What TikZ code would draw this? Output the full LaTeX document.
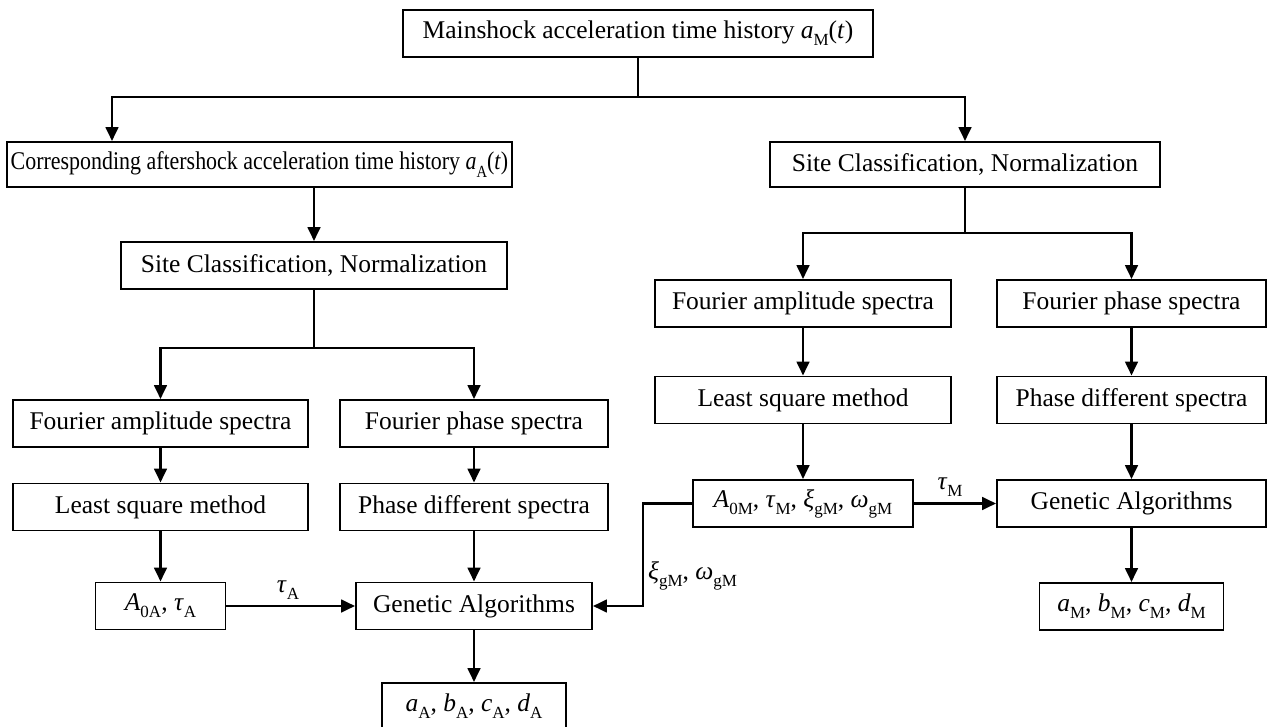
\documentclass[tikz,border=0pt]{standalone}
\usepackage{fontspec}
\setmainfont{Liberation Serif}
\usetikzlibrary{arrows.meta}
\newcommand{\lo}[1]{\raisebox{-0.28em}{\fontsize{17}{17}\selectfont #1}}
\begin{document}
\begin{tikzpicture}[x=1pt,y=1pt,
  font=\fontsize{25.5}{30}\selectfont,
  boxn/.style={draw, line width=1.8pt, inner sep=0pt, minimum height=47pt, fill=white},
  conn/.style={line width=2.9pt},
  arr/.style={conn, -{Triangle[length=14pt,width=12.5pt]}},
  lab/.style={inner sep=0pt}]
\useasboundingbox (0,0) rectangle (1267,-727);
% nodes
\node[boxn, minimum width=470pt] (main) at (638,-33.5) {Mainshock acceleration time history \textit{a}\lo{M}(\textit{t})};
\node[boxn, minimum width=505pt, minimum height=45pt] (corr) at (259.5,-164.5) {\scalebox{0.86}[1]{Corresponding aftershock acceleration time history \textit{a}\lo{A}(\textit{t})}};
\node[boxn, minimum width=390pt, minimum height=45pt] (siteR) at (965,-164.5) {Site Classification, Normalization};
\node[boxn, minimum width=386pt] (siteL) at (314,-265.5) {Site Classification, Normalization};
\node[boxn, minimum width=295pt] (fampL) at (160.5,-423.5) {Fourier amplitude spectra};
\node[boxn, minimum width=268pt] (fphL) at (474,-423.5) {Fourier phase spectra};
\node[boxn, minimum width=295pt] (lsqL) at (160.5,-507) {Least square method};
\node[boxn, minimum width=268pt] (pdL) at (474,-507) {Phase different spectra};
\node[boxn, minimum width=130pt] (a0a) at (160.5,-606) {\textit{A}\lo{0A}, \textit{τ}\lo{A}};
\node[boxn, minimum width=236pt] (gaL) at (474,-606) {Genetic Algorithms};
\node[boxn, minimum width=184pt] (resA) at (474,-706.5) {\textit{a}\lo{A}, \textit{b}\lo{A}, \textit{c}\lo{A}, \textit{d}\lo{A}};
\node[boxn, minimum width=296pt] (fampR) at (803,-303.5) {Fourier amplitude spectra};
\node[boxn, minimum width=269pt] (fphR) at (1131.5,-303.5) {Fourier phase spectra};
\node[boxn, minimum width=296pt] (lsqR) at (803,-400) {Least square method};
\node[boxn, minimum width=269pt] (pdR) at (1131.5,-400) {Phase different spectra};
\node[boxn, minimum width=220pt] (a0m) at (803,-503.5) {\textit{A}\lo{0M}, \textit{τ}\lo{M}, \textit{ξ}\lo{gM}, \textit{ω}\lo{gM}};
\node[boxn, minimum width=269pt] (gaR) at (1131.5,-503.5) {Genetic Algorithms};
\node[boxn, minimum width=184pt] (resM) at (1131.5,-606.5) {\textit{a}\lo{M}, \textit{b}\lo{M}, \textit{c}\lo{M}, \textit{d}\lo{M}};
% junction coordinates
\coordinate (j1) at (638,-97);
\coordinate (kL) at (112,-97);
\coordinate (jL) at (314,-348);
\coordinate (jR) at (965,-233);
\coordinate (kx) at (643,-503.5);
% connectors
\draw[arr] (main.south) |- (kL) -- (kL |- corr.north);
\draw[arr] (j1) -| (siteR.north);
\draw[arr] (siteL.north |- corr.south) -- (siteL.north);
\draw[conn] (siteL.south) -- (jL);
\draw[arr] (jL) -| (fampL.north);
\draw[arr] (jL) -| (fphL.north);
\draw[arr] (fampL) -- (lsqL);
\draw[arr] (fphL) -- (pdL);
\draw[arr] (lsqL) -- (a0a);
\draw[arr] (pdL) -- (gaL);
\draw[arr] (gaL) -- (resA);
\draw[arr] (a0a) -- (gaL);
\node[lab] (tA) at (288,-590) {\textit{τ}\lo{A}};
\draw[conn] (siteR.south) -- (jR);
\draw[arr] (jR) -| (fampR.north);
\draw[arr] (jR) -| (fphR.north);
\draw[arr] (fampR) -- (lsqR);
\draw[arr] (fphR) -- (pdR);
\draw[arr] (lsqR) -- (a0m);
\draw[arr] (pdR) -- (gaR);
\draw[arr] (gaR) -- (resM);
\draw[arr] (a0m) -- (gaR);
\node[lab] (tM) at (950,-487) {\textit{τ}\lo{M}};
\draw[arr] (a0m.west) -- (kx) |- (gaL.east);
\node[lab, anchor=west] (xw) at (648,-576) {\textit{ξ}\lo{gM}, \textit{ω}\lo{gM}};
\end{tikzpicture}
\end{document}
